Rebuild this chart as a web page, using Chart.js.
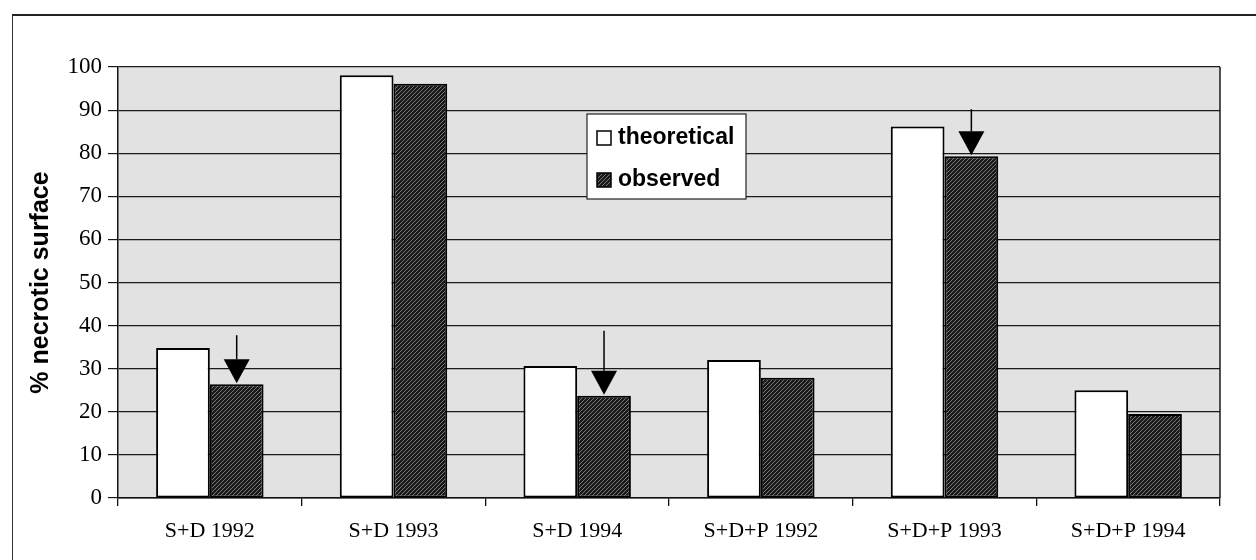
<!DOCTYPE html>
<html><head><meta charset="utf-8">
<script src="https://cdn.jsdelivr.net/npm/chart.js@4.4.1/dist/chart.umd.min.js"></script>
<style>
html,body{margin:0;padding:0;background:#fff;}
#wrap{position:relative;width:1256px;height:560px;overflow:hidden;}
#c{position:absolute;left:0;top:0;}
#frame{position:absolute;left:12px;top:14px;width:1260px;height:560px;border-left:1.5px solid #333;border-top:2px solid #222;pointer-events:none;}
</style></head><body>
<div id="wrap"><canvas id="c" width="1256" height="560"></canvas><div id="frame"></div></div>
<script>
// ---- data ----
const categories = ['S+D 1992', 'S+D 1993', 'S+D 1994', 'S+D+P 1992', 'S+D+P 1993', 'S+D+P 1994'];
const theoretical = [34.8, 98.1, 30.6, 32.0, 86.2, 25.0];
const observed = [26.4, 96.1, 23.7, 27.9, 79.3, 19.5];
const arrowMarked = [true, false, true, false, true, false];
const seriesNames = ['theoretical', 'observed'];
const yTickValues = [0, 10, 20, 30, 40, 50, 60, 70, 80, 90, 100];
const yTitle = '% necrotic surface';

// ---- styles ----
function hatchPattern() {
  const s = 4;
  const c = document.createElement('canvas');
  c.width = s; c.height = s;
  const x = c.getContext('2d');
  x.fillStyle = '#1a1a1a';
  x.fillRect(0, 0, s, s);
  x.strokeStyle = '#777';
  x.lineWidth = 1;
  x.beginPath();
  x.moveTo(0, s); x.lineTo(s, 0);
  x.moveTo(-1, 1); x.lineTo(1, -1);
  x.moveTo(s - 1, s + 1); x.lineTo(s + 1, s - 1);
  x.stroke();
  return document.getElementById('c').getContext('2d').createPattern(c, 'repeat');
}
const hatch = hatchPattern();

const plotBg = {
  id: 'plotBg',
  beforeDraw(chart) {
    const {ctx, chartArea: a} = chart;
    ctx.save();
    ctx.fillStyle = '#e2e2e2';
    ctx.fillRect(a.left, a.top, a.right - a.left, a.bottom - a.top);
    ctx.restore();
  },
  afterDatasetsDraw(chart) {
    const {ctx, chartArea: a} = chart;
    ctx.save();
    ctx.strokeStyle = '#1a1a1a';
    ctx.lineWidth = 1.5;
    ctx.beginPath();
    ctx.moveTo(a.right, a.top); ctx.lineTo(a.right, a.bottom);
    ctx.stroke();
    ctx.restore();
  }
};

const arrows = {
  id: 'arrows',
  afterDatasetsDraw(chart, args, opts) {
    const meta = chart.getDatasetMeta(1);
    const {ctx} = chart;
    let k = 0;
    ctx.save();
    ctx.strokeStyle = '#000';
    ctx.fillStyle = '#000';
    arrowMarked.forEach((m, i) => {
      if (!m) return;
      const el = meta.data[i];
      const x = el.x, tip = el.y - 1;
      const th = opts.triHeight, hw = opts.triHalfWidth, stem = opts.stems[k++];
      ctx.lineWidth = 1.5;
      ctx.beginPath();
      ctx.moveTo(x, tip - th - stem); ctx.lineTo(x, tip - th);
      ctx.stroke();
      ctx.beginPath();
      ctx.moveTo(x - hw, tip - th); ctx.lineTo(x + hw, tip - th); ctx.lineTo(x, tip);
      ctx.closePath();
      ctx.fill();
    });
    ctx.restore();
  }
};

const boxLegend = {
  id: 'boxLegend',
  afterDraw(chart, args, o) {
    const {ctx, chartArea: a} = chart;
    const left = a.left + o.dx, top = a.top + o.dy;
    ctx.save();
    ctx.fillStyle = '#fff';
    ctx.fillRect(left, top, o.w, o.h);
    ctx.strokeStyle = '#222';
    ctx.lineWidth = 1.2;
    ctx.strokeRect(left, top, o.w, o.h);
    ctx.font = 'bold 23px "Liberation Sans", Arial, sans-serif';
    ctx.textBaseline = 'middle';
    ctx.textAlign = 'left';
    chart.data.datasets.forEach((ds, i) => {
      const cy = top + o.rowY[i];
      ctx.fillStyle = ds.backgroundColor;
      ctx.fillRect(left + 10, cy - 7, 14, 14);
      ctx.strokeStyle = '#000';
      ctx.lineWidth = 1.5;
      ctx.strokeRect(left + 10, cy - 7, 14, 14);
      ctx.fillStyle = '#000';
      ctx.fillText(ds.label, left + 31, cy);
    });
    ctx.restore();
  }
};

new Chart(document.getElementById('c'), {
  type: 'bar',
  data: {
    labels: categories,
    datasets: [
      {label: seriesNames[0], data: theoretical, backgroundColor: '#ffffff', borderColor: '#000', borderWidth: 2, borderSkipped: false},
      {label: seriesNames[1], data: observed, backgroundColor: hatch, borderColor: '#000', borderWidth: 2, borderSkipped: false}
    ]
  },
  options: {
    responsive: false,
    animation: false,
    devicePixelRatio: 1,
    layout: {padding: {left: 0, right: 36, top: 67, bottom: 0}},
    datasets: {bar: {categoryPercentage: 0.585, barPercentage: 1.0}},
    plugins: {
      legend: {display: false},
      tooltip: {enabled: false},
      arrows: {triHeight: 24, triHalfWidth: 13, stems: [24, 40, 22]},
      boxLegend: {dx: 469, dy: 47, w: 159, h: 85, rowY: [24, 66]}
    },
    scales: {
      x: {
        grid: {display: true, drawOnChartArea: false, drawTicks: true, tickLength: 8, offset: true, color: '#111', lineWidth: 1.3},
        border: {display: true, color: '#111', width: 1.5},
        ticks: {color: '#000', font: {family: '"Liberation Serif", "Times New Roman", serif', size: 22}, padding: 12, maxRotation: 0, autoSkip: false},
        afterFit(s) { s.height = 62; s.paddingLeft = 0; s.paddingRight = 0; }
      },
      y: {
        min: 0, max: 100,
        afterBuildTicks(s) { s.ticks = yTickValues.map(v => ({value: v})); },
        grid: {color: '#1a1a1a', lineWidth: 1.2, tickLength: 10, drawTicks: true},
        border: {display: true, color: '#111', width: 1.5},
        ticks: {color: '#000', font: {family: '"Liberation Serif", "Times New Roman", serif', size: 23}, padding: 6},
        title: {display: true, text: yTitle, color: '#000', font: {family: '"Liberation Sans", Arial, sans-serif', size: 25, weight: 'bold'}, padding: {top: 26, bottom: 0}},
        afterFit(s) { s.width = 118; s.paddingTop = 0; s.paddingBottom = 0; }
      }
    }
  },
  plugins: [plotBg, arrows, boxLegend]
});
</script>
</body></html>
